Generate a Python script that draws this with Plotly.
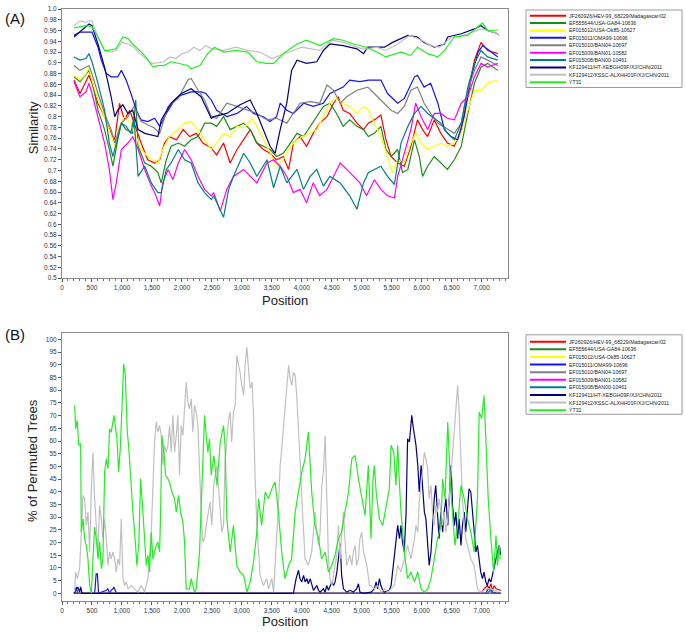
import plotly.graph_objects as go

# ---------------- names / colours ----------------
NAMES = ["JF260926/HEV-99_68229/Madagascar/02", "EF555644/USA-GA84-10636", "EF015012/USA-Ok85-10627",
         "EF015011/OMA99-10696", "EF015010/BAN04-10697", "EF015009/BAN01-10582", "EF015008/BAN00-10461",
         "KF129411/HT-XEBGH09F/XJ/CHN/2011", "KF129412/KSSC-ALXHH01F/XJ/CHN/2011", "YT31"]
COLORS = ["#FF0000", "#1E8A1E", "#FFFF00", "#1414F0", "#808080", "#FF00FF", "#008080",
          "#000080", "#C0C0C0", "#22EE22"]

# ---------------- panel A : similarity ----------------
A_POS_RED = [200,300,450,500,600,710,820,880,960,1040,1130,1240,1320,1430,1545,1630,1710,1790,1910,2020,2130,2240,2350,2490,2580,2695,2805,2920,3030,3140,3250,3360,3470,3580,3690,3780,3860,3970,4080,4190,4300,4420,4530,4610,4690,4800,4920,5030,5110,5210,5320,5405,5490,5600,5710,5820,5930,6015,6100,6210,6320,6430,6545,6660,6770,6880,6990,7100,7270]
A_SIM_RED = [.868,.843,.877,.862,.825,.800,.769,.757,.825,.794,.812,.776,.751,.720,.714,.720,.751,.763,.757,.776,.763,.769,.751,.742,.729,.751,.714,.739,.757,.776,.751,.739,.732,.720,.726,.702,.751,.763,.745,.769,.788,.800,.825,.837,.812,.806,.788,.776,.788,.794,.803,.757,.726,.714,.708,.745,.794,.776,.763,.794,.769,.751,.745,.776,.843,.905,.938,.923,.917]

A_POS_DGREEN = [200,300,450,500,600,710,790,850,930,990,1070,1180,1230,1270,1380,1490,1600,1655,1740,1820,1940,2045,2155,2270,2380,2490,2580,2695,2805,2920,3030,3140,3250,3360,3470,3580,3690,3810,3920,4030,4140,4250,4360,4470,4580,4690,4800,4920,5030,5110,5210,5320,5405,5490,5600,5680,5770,5880,5960,6015,6100,6210,6320,6430,6545,6660,6770,6880,6990,7100,7270]
A_SIM_DGREEN = [.874,.865,.886,.868,.812,.776,.739,.708,.757,.788,.776,.769,.831,.745,.714,.708,.696,.677,.720,.745,.751,.745,.757,.763,.788,.788,.782,.800,.776,.782,.788,.776,.751,.745,.739,.726,.732,.751,.769,.763,.782,.800,.819,.825,.806,.782,.794,.782,.776,.763,.769,.782,.739,.726,.739,.696,.702,.757,.726,.689,.708,.726,.714,.702,.720,.745,.806,.862,.892,.899,.886]

A_POS_YELLOW = [200,300,400,450,500,600,710,820,880,960,1040,1150,1240,1320,1430,1520,1600,1680,1790,1940,2045,2155,2270,2380,2490,2580,2695,2805,2920,3030,3170,3280,3390,3500,3580,3690,3810,3920,4030,4140,4250,4360,4470,4580,4690,4800,4920,5030,5110,5210,5320,5430,5515,5600,5710,5820,5900,5990,6100,6210,6320,6430,6545,6660,6770,6880,6990,7100,7270]
A_SIM_YELLOW = [.877,.868,.880,.892,.868,.831,.800,.763,.745,.782,.800,.788,.763,.739,.726,.720,.714,.739,.763,.776,.788,.791,.776,.757,.739,.751,.769,.763,.782,.779,.797,.776,.751,.726,.708,.720,.745,.757,.763,.769,.776,.800,.825,.834,.825,.819,.806,.819,.812,.788,.763,.726,.696,.720,.714,.751,.769,.751,.739,.745,.751,.745,.751,.769,.812,.849,.849,.862,.868]

A_POS_BLUE = [200,300,500,600,655,740,820,930,990,1070,1150,1240,1320,1430,1545,1630,1740,1880,1990,2155,2320,2400,2490,2580,2750,2920,3080,3195,3360,3470,3580,3640,3750,3860,4030,4190,4360,4470,4690,4800,4970,5110,5320,5430,5600,5710,5880,5930,6040,6150,6270,6380,6490,6600,6710,6830,6940,7020,7160,7270]
A_SIM_BLUE = [.951,.957,.957,.929,.905,.880,.874,.874,.886,.868,.843,.812,.794,.791,.797,.782,.806,.831,.840,.846,.846,.843,.831,.812,.800,.806,.819,.806,.800,.791,.800,.825,.812,.806,.825,.819,.825,.843,.855,.868,.865,.868,.868,.843,.825,.834,.874,.877,.855,.862,.825,.776,.763,.757,.800,.874,.920,.932,.920,.911]

A_POS_GRAY = [200,300,450,500,600,710,820,880,990,1100,1200,1320,1430,1540,1630,1770,1940,2100,2155,2270,2380,2490,2580,2750,2920,3080,3250,3420,3580,3750,3860,3970,4140,4300,4420,4530,4640,4750,4920,5100,5210,5380,5490,5600,5710,5820,5930,6040,6150,6270,6430,6545,6660,6770,6880,6990,7100,7270]
A_SIM_GRAY = [.895,.886,.895,.880,.843,.806,.776,.751,.788,.800,.819,.791,.785,.779,.769,.819,.834,.868,.871,.849,.831,.800,.797,.825,.819,.812,.806,.794,.797,.788,.806,.825,.828,.825,.859,.849,.825,.837,.849,.855,.843,.825,.812,.806,.819,.849,.855,.825,.806,.788,.776,.769,.788,.849,.886,.911,.905,.895]

A_POS_MAGENTA = [200,300,400,450,500,600,710,790,850,905,990,1100,1180,1270,1380,1490,1545,1630,1680,1770,1850,1940,2045,2155,2270,2380,2490,2530,2640,2750,2860,3030,3140,3250,3420,3530,3640,3750,3860,3970,4080,4190,4300,4420,4530,4640,4750,4860,4970,5080,5210,5320,5430,5545,5600,5710,5820,5900,5990,6100,6210,6320,6430,6545,6660,6770,6880,6990,7100,7270]
A_SIM_MAGENTA = [.865,.837,.846,.862,.843,.800,.751,.702,.646,.677,.739,.751,.763,.739,.702,.671,.659,.634,.677,.702,.683,.714,.739,.720,.689,.665,.653,.659,.625,.665,.689,.702,.689,.677,.714,.720,.708,.689,.659,.665,.640,.677,.653,.665,.689,.714,.702,.689,.677,.653,.683,.665,.653,.649,.689,.732,.776,.825,.800,.776,.806,.806,.797,.794,.825,.837,.874,.899,.892,.899]

A_POS_TEAL = [200,300,400,450,500,600,710,790,850,930,990,1070,1150,1200,1270,1380,1490,1600,1655,1740,1820,1940,2045,2155,2270,2380,2490,2530,2640,2695,2780,2860,3030,3140,3250,3420,3530,3640,3750,3920,4030,4140,4250,4360,4470,4640,4800,4920,5030,5110,5210,5320,5430,5545,5655,5770,5880,5990,6100,6210,6320,6430,6545,6660,6770,6880,6990,7100,7270]
A_SIM_TEAL = [.911,.905,.908,.917,.902,.862,.812,.751,.726,.763,.788,.782,.769,.800,.689,.708,.677,.659,.659,.702,.714,.739,.720,.714,.677,.659,.646,.653,.628,.613,.665,.689,.732,.714,.689,.720,.668,.708,.677,.702,.665,.689,.702,.671,.689,.677,.653,.628,.677,.696,.702,.708,.689,.674,.751,.782,.806,.819,.806,.797,.788,.769,.757,.788,.855,.899,.923,.911,.905]

A_POS_NAVY = [200,300,450,500,600,710,820,880,930,1015,1100,1180,1270,1380,1520,1600,1655,1820,1990,2155,2320,2430,2490,2530,2750,2970,3140,3250,3360,3470,3555,3640,3750,3830,3920,4080,4250,4360,4470,4690,4920,5030,5100,5380,5515,5770,5930,6040,6210,6380,6435,6660,6880,6990,7100,7270]
A_SIM_NAVY = [.948,.957,.972,.969,.935,.892,.837,.800,.812,.822,.806,.812,.776,.769,.766,.763,.794,.825,.843,.852,.837,.812,.797,.800,.806,.822,.831,.806,.776,.745,.732,.776,.825,.886,.905,.899,.902,.923,.935,.932,.926,.917,.929,.929,.938,.951,.948,.938,.929,.935,.948,.954,.963,.969,.960,.954]

A_POS_LGRAY = [200,300,400,450,500,600,710,820,900,1000,1100,1200,1300,1400,1500,1600,1700,1800,1900,2000,2100,2200,2300,2400,2500,2700,2900,3100,3300,3500,3700,3850,4000,4150,4300,4500,4700,4850,5000,5100,5250,5400,5600,5800,6000,6150,6300,6500,6700,6850,7000,7100,7200,7300]
A_SIM_LGRAY = [.969,.978,.975,.978,.978,.948,.923,.920,.923,.938,.935,.929,.917,.908,.899,.900,.902,.911,.908,.917,.920,.929,.923,.932,.926,.923,.929,.923,.920,.908,.917,.923,.929,.926,.923,.942,.938,.932,.926,.926,.929,.923,.935,.951,.942,.932,.929,.948,.951,.957,.963,.960,.957,.951]

A_POS_GREEN = [200,300,400,500,600,710,770,900,1015,1100,1180,1350,1520,1600,1700,1820,1950,2100,2150,2300,2430,2545,2700,2900,3100,3250,3400,3530,3690,3920,4080,4300,4530,4690,4860,5080,5250,5400,5655,5820,5930,6100,6270,6380,6545,6770,6930,7015,7100,7270]
A_SIM_GREEN = [.965,.967,.969,.967,.948,.923,.923,.926,.948,.945,.935,.917,.892,.895,.895,.902,.899,.895,.889,.895,.917,.929,.920,.923,.920,.902,.899,.899,.917,.935,.942,.932,.945,.942,.935,.929,.920,.911,.920,.914,.929,.917,.911,.923,.948,.951,.966,.974,.960,.961]

# ---------------- panel B : % of permuted trees ----------------
B_POS_RED = [200,6985,7040,7095,7125,7155,7180,7210,7240,7295,7320]
B_PCT_RED = [0,0,1.8,3.1,1.8,3.8,1.2,3.1,1.8,1.2,1.2]
B_POS_DGREEN = [200,7320]
B_PCT_DGREEN = [0,0]
B_POS_YELLOW = [200,7320]
B_PCT_YELLOW = [0,0]
B_POS_BLUE = [200,240,260,545,570,590,610,740,765,795,820,850,865,890,910,7070,7125,7165,7320]
B_PCT_BLUE = [0,2.5,0,0,7.7,7.7,0,1.2,1.8,0,1.2,1.8,2.5,1.2,0,0,2.5,0.5,0]
B_POS_GRAY = [200,7320]
B_PCT_GRAY = [0,0]
B_POS_MAGENTA = [200,7320]
B_PCT_MAGENTA = [0,0]
B_POS_TEAL = [200,7100,7150,7200,7320]
B_PCT_TEAL = [0,0,1.8,0,0]

B_POS_NAVY = [200,220,240,265,295,310,335,3860,3905,3945,3970,4000,4030,4055,4085,4110,4140,4165,4195,4250,4280,4305,4360,4390,4415,4445,4500,4530,4555,4585,4610,4640,4665,4695,4750,4805,4860,4915,4945,4970,5030,5155,5210,5240,5265,5295,5320,5350,5380,5460,5490,5515,5545,5570,5600,5630,5655,5680,5710,5740,5765,5795,5810,5835,5855,5880,5905,5935,5960,5990,6015,6045,6070,6100,6125,6155,6180,6210,6235,6265,6290,6320,6350,6375,6405,6435,6460,6490,6515,6545,6570,6600,6625,6655,6680,6710,6735,6765,6790,6820,6850,6875,6905,6930,6960,6985,7015,7040,7070,7095,7125,7155,7180,7210,7240,7265,7295,7320]
B_PCT_NAVY = [0,0.5,1.8,2.4,0.5,2.6,0,0,5.8,9.1,5.8,4.5,7.1,4.5,5.8,3.8,5.8,3.1,1.2,3.1,1.2,0.5,1.8,0.5,3.1,1.2,4.5,3.1,4.5,8.4,13.6,19.6,7.1,1.8,0.5,1.2,0.5,1.8,3.8,0.5,0,0.5,1.8,4.5,1.8,5.8,3.1,1.2,0.5,1.2,3.1,8.4,13.6,21.5,26.8,21.5,26.8,20.2,16.3,32,60.9,59.6,63.5,70.1,66.1,62.2,58.3,50.4,39.9,50.4,41.2,32,29.4,20.2,11,16.3,26.8,37.3,42.5,32,21.5,32,24.1,32,37.3,26.8,37.3,50.4,34.6,26.8,32,21.5,29.4,18.9,26.8,32,24.1,34.6,41.2,39.9,32,22.8,16.3,18.9,13.6,8.4,5.8,8.4,4.5,3.1,5.8,4.5,7.1,11,13.6,16.3,18.9,15]

B_POS_LGRAY = [211,228,255,294,322,350,378,405,433,461,489,517,544,572,600,628,656,683,711,739,767,794,822,850,878,906,933,961,989,1017,1044,1072,1100,1156,1211,1267,1322,1378,1433,1461,1489,1517,1544,1572,1600,1628,1656,1683,1711,1739,1767,1794,1822,1850,1878,1906,1933,1961,1989,2017,2044,2072,2100,2128,2156,2183,2211,2239,2267,2294,2322,2350,2378,2406,2433,2470,2500,2530,2585,2610,2665,2695,2720,2780,2805,2830,2860,2890,2915,2945,2970,3000,3030,3055,3085,3110,3140,3170,3195,3220,3250,3280,3305,3360,3415,3445,3500,3530,3555,3585,3610,3640,3665,3695,3720,3750,3780,3805,3835,3860,3890,3915,3945,3970,4000,4030,4055,4110,4165,4195,4220,4250,4280,4305,4335,4360,4390,4415,4445,4470,4500,4555,4585,4610,4640,4665,4695,4720,4750,4780,4805,4835,4860,4890,4915,4945,4970,5000,5030,5085,5130,5155,5210,5265,5320,5380,5435,5490,5545,5600,5655,5710,5765,5820,5880,5905,5935,5960,5990,6015,6045,6070,6100,6125,6155,6180,6210,6235,6265,6290,6320,6350,6375,6405,6435,6460,6490,6515,6545,6570,6600,6625,6655,6680,6710,6735,6765,6790,6820,6875,6905,6930,6985,7040,7095,7155,7210,7265]
B_PCT_LGRAY = [0.5,8.4,5.8,9.7,24.1,38.6,37.3,26.8,32,16.3,41.2,55.6,37.3,24.1,16.3,34.6,29.4,21.5,29.4,21.5,11,16.3,13.6,16.3,13.6,8.4,13.6,11,29.4,5.8,3.1,4.5,1.8,3.1,1.8,0.5,3.1,0.5,5.8,16.3,24.1,42.5,59.6,67.5,63.5,66.1,62.2,50.4,58.3,55.6,58.3,66.1,55.6,70.1,55.6,62.2,70.1,46.5,66.1,62.2,72.7,83.2,75.3,72.7,76.6,63.5,74,71.4,66.1,45.1,32,20.2,21.5,26.8,30.7,36,26.8,42.5,50.4,41.2,24.1,26.8,51.7,68.8,71.4,59.6,71.4,74,93.7,89.8,87.1,81.9,78,89.8,97,88.5,80.6,83.2,70.1,46.5,26.8,16.3,7.1,3.1,5.8,1.8,5.8,0.5,13.6,24.1,34.6,50.4,57,66.1,74,80.6,89.8,84.5,81.9,87.1,85.8,78,66.1,53,37.3,24.1,13.6,11,16.3,24.1,32,24.1,18.9,24.1,42.5,47.8,62.2,39.9,13.6,5.8,3.1,11,15,26.8,13.6,24.1,32,21.5,11,13.6,15,11,16.3,18.9,11,13.6,21.5,24.1,16.3,11,3.1,3.1,1.8,3.1,0.5,1.8,0.5,1.8,3.1,11,8.4,13.6,18.9,13.6,21.5,26.8,24.1,36,42.5,50.4,55.6,53,49.1,37.3,42.5,32,26.8,34.6,32,37.3,32,26.8,32,24.1,29.4,37.3,47.8,58.3,67.5,74,81.9,71.4,53,37.3,26.8,21.5,18.9,16.3,13.6,11,5.8,1.8,0.5,1.2,1.8,1.8,1.2,0.5]

B_POS_GREEN = [211,228,255,278,311,322,350,378,405,433,461,489,517,544,572,600,628,656,683,711,739,767,794,822,867,889,917,944,972,1000,1028,1056,1089,1111,1144,1183,1211,1250,1283,1311,1339,1378,1406,1433,1461,1489,1517,1544,1572,1600,1628,1644,1667,1700,1728,1767,1794,1833,1878,1906,1944,1978,2017,2044,2072,2128,2156,2211,2239,2294,2322,2350,2378,2406,2433,2461,2489,2533,2585,2640,2695,2720,2750,2805,2860,2915,2970,3030,3085,3140,3195,3250,3280,3330,3390,3445,3500,3555,3610,3665,3720,3780,3830,3890,3945,4000,4055,4110,4165,4220,4280,4330,4390,4445,4500,4555,4610,4665,4720,4780,4835,4890,4945,5000,5055,5110,5155,5185,5210,5240,5295,5350,5405,5460,5490,5535,5570,5600,5630,5655,5710,5765,5820,5880,5935,5990,6045,6100,6155,6210,6265,6320,6350,6390,6435,6480,6515,6555,6600,6655,6710,6765,6820,6875,6930,6960,7000,7040,7070,7110,7155,7200,7240,7265,7295,7310]
B_PCT_GREEN = [74,64.8,68.1,58.3,59,24.1,29.4,21.5,18.9,13.6,3.1,0,13.6,26.1,21.5,13.6,20.2,9.7,13.6,47.8,53,49.1,64.8,63.5,70.1,66.1,60.9,47.8,57,72.7,90.4,85.8,63.5,58.3,45.1,32,24.1,11,20.2,45.1,36,22.8,11,15,8.4,24.1,13.6,16.3,18.9,20.2,16.3,30.7,62.2,55.6,46.5,45.1,43.8,39.9,37.3,32,38.6,32,28.1,20.2,1.8,1.8,5.8,0.5,1.8,16.3,34.6,54.3,70.1,62.2,55.6,60.9,46.5,54.3,42.5,59.6,66.1,58.3,29.4,16.3,26.8,11,8.4,7.1,0.5,4.5,12.3,24.1,37.3,26.8,39.9,37.3,41.2,43.8,32,16.3,5.8,11,13.6,32,39.9,47.8,53,63.5,39.9,26.8,21.5,13.6,16.3,8.4,11,15,21.5,24.1,32,39.9,53,54.3,45.1,38.6,30.7,50.4,21.5,43.8,50.4,39.9,29.4,26.8,34.6,41.2,58.3,55.6,42.5,58.3,42.5,32,16.3,5.8,8.4,4.5,8.4,1.8,0.5,1.8,5.8,13.6,21.5,26.8,45.1,37.3,67.5,42.5,32,18.9,26.8,42.5,37.3,29.4,24.1,16.3,37.3,71.4,68.8,78,60.9,37.3,21.5,8.4,22.8,11,18.9,13.6]

A_DATA = [(A_POS_RED, A_SIM_RED), (A_POS_DGREEN, A_SIM_DGREEN), (A_POS_YELLOW, A_SIM_YELLOW),
          (A_POS_BLUE, A_SIM_BLUE), (A_POS_GRAY, A_SIM_GRAY), (A_POS_MAGENTA, A_SIM_MAGENTA),
          (A_POS_TEAL, A_SIM_TEAL), (A_POS_NAVY, A_SIM_NAVY), (A_POS_LGRAY, A_SIM_LGRAY),
          (A_POS_GREEN, A_SIM_GREEN)]
B_DATA = [(B_POS_RED, B_PCT_RED), (B_POS_DGREEN, B_PCT_DGREEN), (B_POS_YELLOW, B_PCT_YELLOW),
          (B_POS_BLUE, B_PCT_BLUE), (B_POS_GRAY, B_PCT_GRAY), (B_POS_MAGENTA, B_PCT_MAGENTA),
          (B_POS_TEAL, B_PCT_TEAL), (B_POS_NAVY, B_PCT_NAVY), (B_POS_LGRAY, B_PCT_LGRAY),
          (B_POS_GREEN, B_PCT_GREEN)]

X_TICKS = [0, 500, 1000, 1500, 2000, 2500, 3000, 3500, 4000, 4500, 5000, 5500, 6000, 6500, 7000]
X_TICK_LABELS = ["0", "500", "1,000", "1,500", "2,000", "2,500", "3,000", "3,500", "4,000",
                 "4,500", "5,000", "5,500", "6,000", "6,500", "7,000"]
A_Y_TICKS = [0.5 + 0.02 * i for i in range(26)]
A_Y_TICK_LABELS = ["0.5", "0.52", "0.54", "0.56", "0.58", "0.6", "0.62", "0.64", "0.66", "0.68",
                   "0.7", "0.72", "0.74", "0.76", "0.78", "0.8", "0.82", "0.84", "0.86", "0.88",
                   "0.9", "0.92", "0.94", "0.96", "0.98", "1.0"]
B_Y_TICKS = list(range(0, 101, 5))

# ---------------- geometry helpers (pixel -> paper) ----------------
W, H = 685, 632
ML, MR, MT, MB = 62, 177, 5, 31
PW, PH = W - ML - MR, H - MT - MB


def fx(px):
    return (px - ML) / PW


def fy(py):
    return (H - MB - py) / PH


FONT = "Arial, Liberation Sans, sans-serif"

fig = go.Figure()
for (xs, ys), c in zip(A_DATA, COLORS):
    fig.add_trace(go.Scatter(x=xs, y=ys, mode="lines", line=dict(color=c, width=1.2),
                             xaxis="x", yaxis="y", showlegend=False, hoverinfo="skip"))
for (xs, ys), c in zip(B_DATA, COLORS):
    fig.add_trace(go.Scatter(x=xs, y=ys, mode="lines", line=dict(color=c, width=1.2),
                             xaxis="x2", yaxis="y2", showlegend=False, hoverinfo="skip"))

axis_common = dict(showgrid=False, zeroline=False, showline=True, linecolor="#8a8a8a", linewidth=1,
                   mirror=True, ticks="outside", ticklen=3, tickcolor="#555",
                   tickfont=dict(family=FONT, size=6.5, color="#333"))

fig.update_layout(
    width=W, height=H, margin=dict(l=ML, r=MR, t=MT, b=MB),
    paper_bgcolor="white", plot_bgcolor="white", showlegend=False,
    xaxis=dict(domain=[0, 1], anchor="y", range=[0, 7440], tickvals=X_TICKS, ticktext=X_TICK_LABELS,
               minor=dict(dtick=100, ticklen=2, ticks="outside", tickcolor="#777"), **axis_common),
    yaxis=dict(domain=[fy(276), 1], anchor="x", range=[0.5, 1.0], tickvals=A_Y_TICKS,
               ticktext=A_Y_TICK_LABELS, **axis_common),
    xaxis2=dict(domain=[0, 1], anchor="y2", range=[0, 7440], tickvals=X_TICKS, ticktext=X_TICK_LABELS,
                minor=dict(dtick=100, ticklen=2, ticks="outside", tickcolor="#777"), **axis_common),
    yaxis2=dict(domain=[0, fy(331)], anchor="x2", range=[-3.0, 102.6], tickvals=B_Y_TICKS, **axis_common),
)

ann = []
shapes = []
ann.append(dict(text="(A)", x=fx(3), y=fy(15), xref="paper", yref="paper", xanchor="left",
                yanchor="middle", showarrow=False, font=dict(family=FONT, size=15, color="#111")))
ann.append(dict(text="(B)", x=fx(3), y=fy(333), xref="paper", yref="paper", xanchor="left",
                yanchor="middle", showarrow=False, font=dict(family=FONT, size=15, color="#111")))
ann.append(dict(text="Similarity", x=fx(33), y=fy(125), xref="paper", yref="paper", textangle=-90,
                xanchor="center", yanchor="middle", showarrow=False,
                font=dict(family=FONT, size=13, color="#222")))
ann.append(dict(text="% of Permuted Trees", x=fx(33), y=fy(460), xref="paper", yref="paper",
                textangle=-90, xanchor="center", yanchor="middle", showarrow=False,
                font=dict(family=FONT, size=13, color="#222")))
for yy in (298, 622):
    ann.append(dict(text="Position", x=fx(285), y=fy(yy), xref="paper", yref="paper",
                    xanchor="center", yanchor="middle", showarrow=False,
                    font=dict(family=FONT, size=13, color="#222")))

# hand-drawn compact legends
for box_top, box_bot, first, step in ((6, 84, 11.7, 7.45), (333, 413, 340, 7.65)):
    shapes.append(dict(type="rect", xref="paper", yref="paper", x0=fx(526), x1=fx(682),
                       y0=fy(box_bot), y1=fy(box_top), line=dict(color="#9a9a9a", width=1)))
    for i, (name, c) in enumerate(zip(NAMES, COLORS)):
        yy = first + i * step
        shapes.append(dict(type="line", xref="paper", yref="paper", x0=fx(530), x1=fx(566),
                           y0=fy(yy), y1=fy(yy), line=dict(color=c, width=2)))
        ann.append(dict(text=name, x=fx(567), y=fy(yy), xref="paper", yref="paper", xanchor="left",
                        yanchor="middle", showarrow=False,
                        font=dict(family=FONT, size=5.2, color="#222")))

fig.update_layout(annotations=ann, shapes=shapes)
fig.write_html("out.html", config={"displayModeBar": False},
               post_script="document.body.style.margin='0px';document.body.style.padding='0px';")
